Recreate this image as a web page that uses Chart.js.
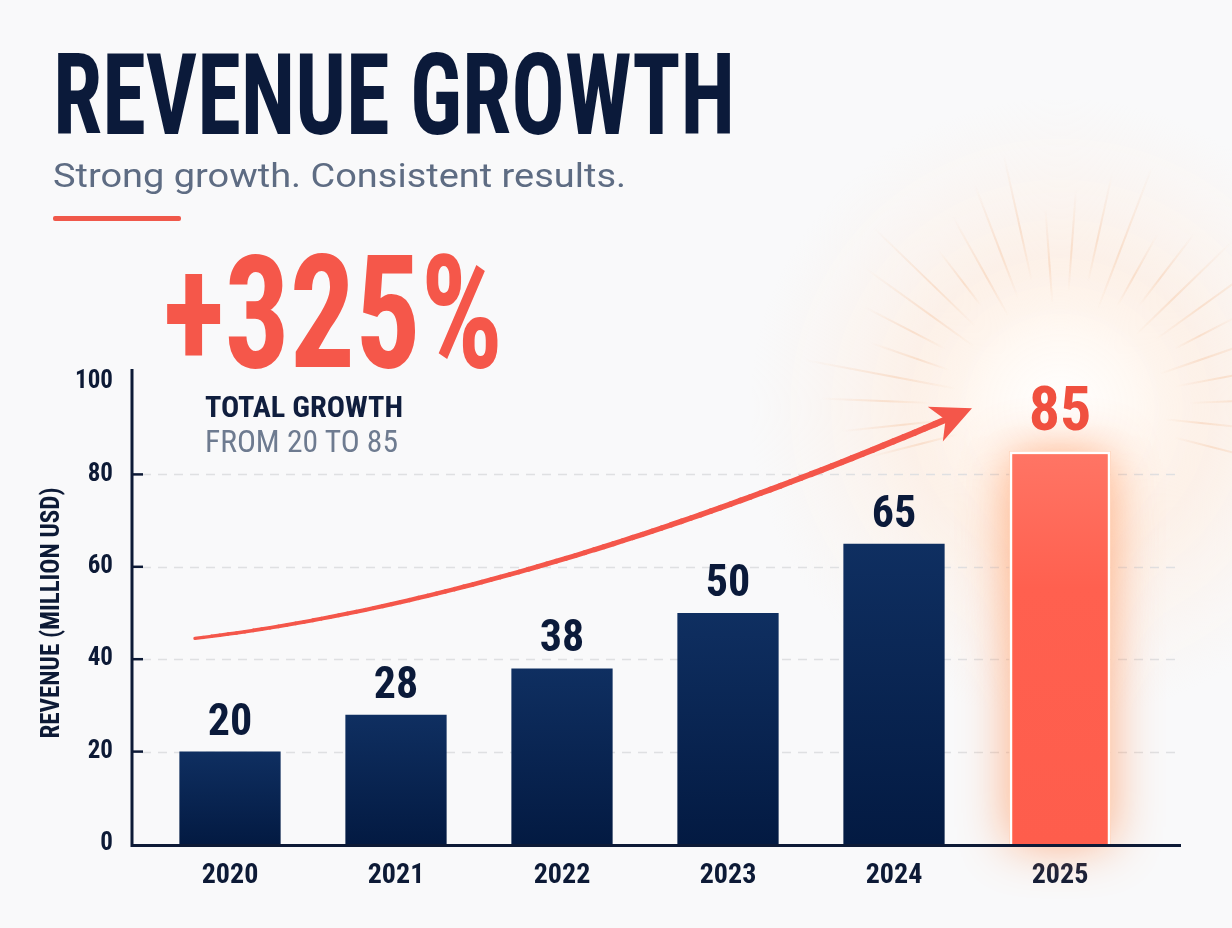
<!DOCTYPE html>
<html lang="en">
<head>
<meta charset="UTF-8">
<title>Revenue Growth</title>
<script src="https://cdn.jsdelivr.net/npm/chart.js@4.4.1/dist/chart.umd.min.js"></script>
<style>
  html, body { margin: 0; padding: 0; background: #f9f9fa; }
  .page { position: relative; width: 1232px; height: 928px; overflow: hidden; }
  .chart-box { position: absolute; left: 0; top: 0; width: 1232px; height: 928px; }
  .txt { position: absolute; white-space: nowrap; line-height: 1; transform-origin: 0 0; }
  .narrow { font-family: "Roboto Condensed", "Liberation Sans Narrow", "DejaVu Sans Condensed", sans-serif; }
  .title { left: 53px; top: 38px; font-size: 114px; font-weight: bold; color: #0b1a3a; }
  .subtitle { left: 53px; top: 155px; font: 34px Roboto, "Noto Sans", sans-serif; color: #5e6c83; }
  .rule { position: absolute; left: 53px; top: 216px; width: 128px; height: 5px; background: #f0584a; border-radius: 2px; }
  .growth { left: 163px; top: 234px; font-size: 158px; font-weight: bold; color: #f5574a; }
  .total { left: 205px; top: 392px; font-size: 30px; font-weight: bold; color: #101e3e; }
  .range { left: 205px; top: 426px; font-size: 31px; color: #6e7b90; }
</style>
</head>
<body>
<div class="page">
  <div class="chart-box"><canvas id="revenueChart"></canvas></div>

  <div class="txt narrow title" data-w="682">REVENUE GROWTH</div>
  <div class="txt subtitle" data-w="573">Strong growth. Consistent results.</div>
  <div class="rule"></div>
  <div class="txt narrow growth" id="growthPct" data-w="340"></div>
  <div class="txt narrow total" data-w="198">TOTAL GROWTH</div>
  <div class="txt narrow range" id="growthRange" data-w="193"></div>
</div>

<script>
  // chart data
  const years = ['2020', '2021', '2022', '2023', '2024', '2025'];
  const revenue = [20, 28, 38, 50, 65, 85];
  const yTicks = [0, 20, 40, 60, 80, 100];
  const yGrid = [20, 40, 60, 80];

  const NARROW = '"Roboto Condensed", "Liberation Sans Narrow", "DejaVu Sans Condensed", sans-serif';
  const NAVY = '#0d1a36';
  const CORAL = '#f0503f';

  // headline numbers come from the data
  const first = revenue[0];
  const last = revenue[revenue.length - 1];
  document.getElementById('growthPct').textContent = '+' + Math.round((last - first) / first * 100) + '%';
  document.getElementById('growthRange').textContent = 'FROM ' + first + ' TO ' + last;

  // squeeze the headline texts to the widths used in the layout
  document.querySelectorAll('[data-w]').forEach(el => {
    const w = el.getBoundingClientRect().width;
    el.style.transform = 'scaleX(' + (el.dataset.w / w).toFixed(4) + ')';
  });

  function barFill(ctx) {
    const chart = ctx.chart;
    const isLast = ctx.dataIndex === revenue.length - 1;
    if (!chart.chartArea) return isLast ? '#ff5f4e' : '#0a2654';
    const y = chart.scales.y;
    const top = y.getPixelForValue(ctx.raw);
    const bottom = y.getPixelForValue(0);
    const g = chart.ctx.createLinearGradient(0, top, 0, bottom);
    if (isLast) {
      g.addColorStop(0, '#ff7565');
      g.addColorStop(0.35, '#ff604f');
      g.addColorStop(1, '#fe5d4c');
    } else {
      g.addColorStop(0, '#0f2f61');
      g.addColorStop(1, '#031a42');
    }
    return g;
  }

  const decor = {
    id: 'decor',
    beforeDatasetsDraw(chart) {
      const { ctx, chartArea, scales: { y } } = chart;
      const bars = chart.getDatasetMeta(0).data;
      const hi = bars[bars.length - 1].getProps(['x', 'y', 'base', 'width'], true);
      const cx = hi.x, cy = hi.y - 43;

      ctx.save();
      // soft burst behind the highlighted value
      const rg = ctx.createRadialGradient(cx, cy, 0, cx, cy, 310);
      rg.addColorStop(0, 'rgba(255,255,255,1)');
      rg.addColorStop(0.25, 'rgba(255,248,242,0.95)');
      rg.addColorStop(0.5, 'rgba(255,234,218,0.55)');
      rg.addColorStop(1, 'rgba(255,240,230,0)');
      ctx.fillStyle = rg;
      ctx.beginPath();
      ctx.arc(cx, cy, 310, 0, Math.PI * 2);
      ctx.fill();
      for (let i = 0; i < 26; i++) {
        const a = -Math.PI - 0.25 + i * (Math.PI + 0.5) / 25;
        const r0 = 105 + (i % 3) * 12, r1 = 200 + (i % 4) * 20;
        const lg = ctx.createLinearGradient(cx + Math.cos(a) * r0, cy + Math.sin(a) * r0, cx + Math.cos(a) * r1, cy + Math.sin(a) * r1);
        lg.addColorStop(0, 'rgba(240,170,120,0)');
        lg.addColorStop(0.4, 'rgba(240,170,120,0.26)');
        lg.addColorStop(1, 'rgba(240,170,120,0)');
        ctx.strokeStyle = lg;
        ctx.lineWidth = 2;
        ctx.beginPath();
        ctx.moveTo(cx + Math.cos(a) * r0, cy + Math.sin(a) * r0);
        ctx.lineTo(cx + Math.cos(a) * r1, cy + Math.sin(a) * r1);
        ctx.stroke();
      }

      // dashed grid
      ctx.strokeStyle = '#dfe0e2';
      ctx.lineWidth = 1.5;
      ctx.setLineDash([9, 7]);
      yGrid.forEach(v => {
        const py = Math.round(y.getPixelForValue(v)) + 0.5;
        ctx.beginPath();
        ctx.moveTo(chartArea.left - 5, py);
        ctx.lineTo(chartArea.right + 38, py);
        ctx.stroke();
      });
      ctx.setLineDash([]);

      // orange glow round the last bar
      ctx.shadowColor = 'rgba(255,135,70,0.75)';
      ctx.shadowBlur = 50;
      ctx.fillStyle = 'rgba(255,170,120,0.9)';
      ctx.fillRect(hi.x - hi.width / 2, hi.y, hi.width, hi.base - hi.y);
      ctx.restore();
    },

    afterDatasetsDraw(chart) {
      const { ctx, chartArea, scales: { y } } = chart;
      const bars = chart.getDatasetMeta(0).data.map(b => b.getProps(['x', 'y', 'base', 'width'], true));
      const axisX = chartArea.left - 15;
      const axisY = chartArea.bottom + 1.5;

      ctx.save();
      // axes
      ctx.strokeStyle = NAVY;
      ctx.lineWidth = 3;
      ctx.beginPath();
      ctx.moveTo(axisX, chartArea.top - 13);
      ctx.lineTo(axisX, axisY + 1.5);
      ctx.moveTo(axisX - 1.5, axisY);
      ctx.lineTo(chartArea.right + 38, axisY);
      ctx.stroke();
      ctx.lineWidth = 2.5;
      yGrid.forEach(v => {
        const py = y.getPixelForValue(v);
        ctx.beginPath();
        ctx.moveTo(axisX, py);
        ctx.lineTo(axisX + 11, py);
        ctx.stroke();
      });

      // value labels
      ctx.textAlign = 'center';
      ctx.textBaseline = 'alphabetic';
      bars.forEach((b, i) => {
        const isLast = i === bars.length - 1;
        ctx.fillStyle = isLast ? CORAL : '#0b1a3a';
        ctx.font = 'bold ' + (isLast ? 62 : 44) + 'px ' + NARROW;
        ctx.fillText(String(revenue[i]), b.x, b.y - (isLast ? 21 : 17));
      });

      // growth arrow, from above the first bar to the highlighted value
      const hi = bars[bars.length - 1];
      const sx = bars[0].x - 35, sy = y.getPixelForValue(44.5);
      const ex = hi.x - 88, ey = hi.y - 43;
      const qx = sx + 0.436 * (ex - sx), qy = sy + 0.177 * (ey - sy);
      const pt = t => [
        (1 - t) * (1 - t) * sx + 2 * (1 - t) * t * qx + t * t * ex,
        (1 - t) * (1 - t) * sy + 2 * (1 - t) * t * qy + t * t * ey
      ];
      const headLen = 40, headW = 19;
      let tEnd = 1;
      while (tEnd > 0) {
        const p = pt(tEnd);
        if (Math.hypot(ex - p[0], ey - p[1]) >= headLen * 0.7) break;
        tEnd -= 0.002;
      }
      ctx.strokeStyle = '#f4564a';
      ctx.fillStyle = '#f4564a';
      ctx.lineCap = 'round';
      const N = 80;
      for (let i = 0; i < N; i++) {
        const t0 = tEnd * i / N, t1 = tEnd * (i + 1) / N;
        const p0 = pt(t0), p1 = pt(t1);
        ctx.lineWidth = 3.4 + 3 * (i / N);
        ctx.beginPath();
        ctx.moveTo(p0[0], p0[1]);
        ctx.lineTo(p1[0], p1[1]);
        ctx.stroke();
      }
      const ang = Math.atan2(ey - qy, ex - qx);
      const dx = Math.cos(ang), dy = Math.sin(ang);
      ctx.beginPath();
      ctx.moveTo(ex, ey);
      ctx.lineTo(ex - headLen * dx - headW * dy, ey - headLen * dy + headW * dx);
      ctx.lineTo(ex - headLen * 0.72 * dx, ey - headLen * 0.72 * dy);
      ctx.lineTo(ex - headLen * dx + headW * dy, ey - headLen * dy - headW * dx);
      ctx.closePath();
      ctx.fill();
      ctx.restore();
    }
  };

  new Chart(document.getElementById('revenueChart'), {
    type: 'bar',
    data: {
      labels: years,
      datasets: [{
        label: 'Revenue',
        data: revenue,
        backgroundColor: barFill,
        borderColor: ctx => ctx.dataIndex === revenue.length - 1 ? '#ffffff' : 'rgba(0,0,0,0)',
        borderWidth: ctx => ctx.dataIndex === revenue.length - 1 ? 3 : 0,
        borderSkipped: 'bottom',
        barPercentage: 0.61,
        categoryPercentage: 1
      }]
    },
    options: {
      responsive: true,
      maintainAspectRatio: false,
      animation: false,
      layout: { padding: { top: 382, right: 89, bottom: 0, left: 0 } },
      plugins: {
        legend: { display: false },
        tooltip: { enabled: false }
      },
      scales: {
        x: {
          grid: { display: false, drawTicks: false },
          border: { display: false },
          ticks: { color: NAVY, padding: 15, font: { family: NARROW, size: 28, weight: 'bold' } },
          afterFit: s => { s.height = 84; }
        },
        y: {
          min: 0,
          max: 100,
          afterBuildTicks: s => { s.ticks = yTicks.map(v => ({ value: v })); },
          grid: { display: false, drawTicks: false },
          border: { display: false },
          ticks: { color: NAVY, padding: 34, font: { family: NARROW, size: 25, weight: 'bold' } },
          title: {
            display: true,
            text: 'REVENUE (MILLION USD)',
            color: NAVY,
            font: { family: NARROW, size: 25, weight: 'bold' },
            padding: { top: 38, bottom: 0 }
          },
          afterFit: s => { s.width = 147; }
        }
      }
    },
    plugins: [decor]
  });
</script>
</body>
</html>
